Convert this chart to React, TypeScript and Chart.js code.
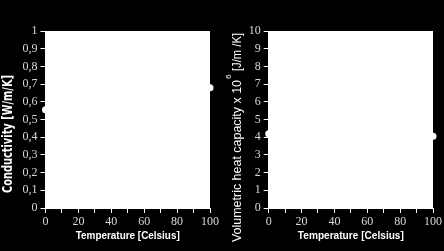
import React, { useEffect, useRef } from 'react';
import { Chart, registerables } from 'chart.js';
Chart.register(...registerables);

// ---- data ----
const temperature = [0, 100];
const conductivity = [0.555, 0.68];
const heatCapacity = [4.2, 4.05];
const xTicksLabelled = [0, 20, 40, 60, 80, 100];
const xTitle = 'Temperature [Celsius]';
const leftYTitle = 'Conductivity [W/m/K]';
const rightYTitleMain = 'Volumetric heat capacity x 10';
const rightYTitleSup = '6';
const rightYTitleEnd = '[J/m /K]';

const W = 222;
const H = 251;
const TICK_COLOR = '#d8d8d8';
const SERIF = '"Liberation Serif", "Times New Roman", serif';

function drawRotated(ctx: CanvasRenderingContext2D, text: string, font: string, cx: number, yStart: number, len: number) {
  ctx.save();
  ctx.font = font;
  const w = ctx.measureText(text).width;
  ctx.translate(cx, yStart);
  ctx.rotate(-Math.PI / 2);
  ctx.scale(len / w, 1);
  ctx.textAlign = 'left';
  ctx.textBaseline = 'middle';
  ctx.fillStyle = '#ffffff';
  ctx.fillText(text, 0, 0);
  ctx.restore();
}

function drawCentered(ctx: CanvasRenderingContext2D, text: string, font: string, cx: number, cy: number, len: number) {
  ctx.save();
  ctx.font = font;
  const w = ctx.measureText(text).width;
  ctx.translate(cx, cy);
  ctx.scale(len / w, 1);
  ctx.textAlign = 'center';
  ctx.textBaseline = 'middle';
  ctx.fillStyle = '#ffffff';
  ctx.fillText(text, 0, 0);
  ctx.restore();
}

type Spec = {
  values: number[];
  yMax: number;
  yStep: number;
  fmt: (v: number) => string;
  left: number;
  right: number;
  xTitleLen: number;
  drawYTitle: (ctx: CanvasRenderingContext2D) => void;
};

function PanelChart({ spec }: { spec: Spec }) {
  const ref = useRef<HTMLCanvasElement | null>(null);
  useEffect(() => {
    if (!ref.current) return;
    const bg = {
      id: 'bg',
      beforeDraw(chart: any) {
        const { ctx, chartArea } = chart;
        ctx.save();
        ctx.fillStyle = '#000000';
        ctx.fillRect(0, 0, chart.width, chart.height);
        ctx.fillStyle = '#ffffff';
        ctx.fillRect(chartArea.left, chartArea.top, chartArea.right - chartArea.left, chartArea.bottom - chartArea.top);
        ctx.restore();
      },
      afterDraw(chart: any) {
        const { ctx, chartArea } = chart;
        drawCentered(ctx, xTitle, 'bold 10px "Liberation Sans", Arial, sans-serif', (chartArea.left + chartArea.right) / 2, 236, spec.xTitleLen);
        spec.drawYTitle(ctx);
      },
    };
    const chart = new Chart(ref.current, {
      type: 'scatter',
      data: {
        datasets: [
          {
            data: temperature.map((t, i) => ({ x: t, y: spec.values[i] })),
            backgroundColor: '#ffffff',
            borderColor: '#ffffff',
            pointRadius: 3.5,
            pointBorderWidth: 0,
            showLine: false,
            clip: false,
          } as any,
        ],
      },
      options: {
        animation: false,
        responsive: false,
        devicePixelRatio: 1,
        events: [],
        layout: { padding: { left: 0, right: W - spec.right, top: 31, bottom: 0 } },
        plugins: { legend: { display: false }, tooltip: { enabled: false } },
        scales: {
          x: {
            type: 'linear',
            min: 0,
            max: 100,
            afterFit: (s: any) => { s.height = 43; },
            ticks: {
              stepSize: 10,
              autoSkip: false,
              maxRotation: 0,
              padding: 2,
              color: TICK_COLOR,
              font: { family: SERIF, size: 12 },
              callback: (v: any) => (xTicksLabelled.includes(Number(v)) ? String(v) : ''),
            },
            grid: { display: true, drawOnChartArea: false, drawTicks: true, tickLength: 5, color: '#ffffff', lineWidth: 1 },
            border: { display: true, color: '#ffffff', width: 1 },
          },
          y: {
            type: 'linear',
            min: 0,
            max: spec.yMax,
            afterFit: (s: any) => { s.width = spec.left; },
            ticks: {
              stepSize: spec.yStep,
              autoSkip: false,
              padding: 3,
              color: TICK_COLOR,
              font: { family: SERIF, size: 12 },
              callback: (v: any) => spec.fmt(Number(v)),
            },
            grid: { display: true, drawOnChartArea: false, drawTicks: true, tickLength: 5, color: '#ffffff', lineWidth: 1 },
            border: { display: true, color: '#ffffff', width: 1 },
          },
        },
      },
      plugins: [bg],
    });
    return () => chart.destroy();
  }, [spec]);
  return <canvas ref={ref} width={W} height={H} style={{ display: 'block', width: W, height: H }} />;
}

const leftSpec: Spec = {
  values: conductivity,
  yMax: 1,
  yStep: 0.1,
  fmt: (v) => (Math.round(v * 10) / 10).toString().replace('.', ','),
  left: 45.5,
  right: 210,
  xTitleLen: 104,
  drawYTitle: (ctx) => {
    drawRotated(ctx, leftYTitle, 'bold 14px "Liberation Sans Narrow", "DejaVu Sans Condensed", sans-serif', 8.5, 193, 118);
  },
};

const rightSpec: Spec = {
  values: heatCapacity,
  yMax: 10,
  yStep: 1,
  fmt: (v) => String(Math.round(v)),
  left: 46.7,
  right: 212,
  xTitleLen: 106,
  drawYTitle: (ctx) => {
    drawRotated(ctx, rightYTitleMain, '12px "Liberation Sans", Arial, sans-serif', 16, 242, 162);
    drawRotated(ctx, rightYTitleSup, '8px "Liberation Sans", Arial, sans-serif', 7, 79, 4.5);
    drawRotated(ctx, rightYTitleEnd, '12px "Liberation Sans", Arial, sans-serif', 16, 71, 38);
  },
};

export default function App() {
  useEffect(() => {
    document.body.style.margin = '0';
    document.body.style.background = '#000';
  }, []);
  return (
    <div style={{ position: 'absolute', left: 0, top: 0, width: 444, height: 251, background: '#000', display: 'flex' }}>
      <PanelChart spec={leftSpec} />
      <PanelChart spec={rightSpec} />
    </div>
  );
}
